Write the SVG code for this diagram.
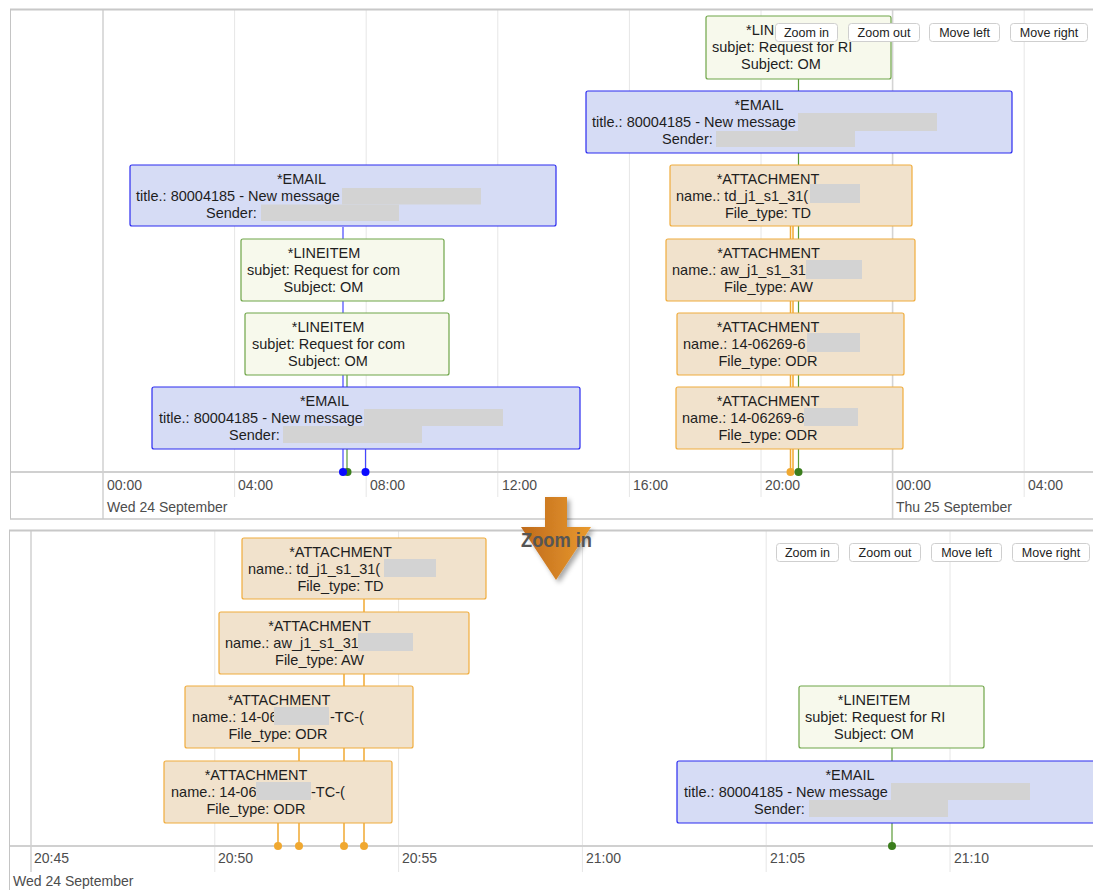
<svg xmlns="http://www.w3.org/2000/svg" width="1093" height="890" viewBox="0 0 1093 890">
<style>
text{font-family:"Liberation Sans",Arial,sans-serif;}
.t{font-size:14.5px;fill:#1e1e1e;}
.m{text-anchor:middle;}
.ax{font-size:14px;fill:#4d4d4d;}
.em{fill:#d6dcf5;stroke:#2b2bf0;stroke-width:1.2;}
.li{fill:#f7f9ec;stroke:#6fa548;stroke-width:1.2;}
.at{fill:#f1e2cc;stroke:#f0ac3c;stroke-width:1.2;}
.gr{fill:#d3d3d3;}
.minor{stroke:#e6e6e6;stroke-width:1;}
.major{stroke:#d4d4d4;stroke-width:1.6;}
.axis{stroke:#d0d0d0;stroke-width:2;}
.lb{stroke:#4545ff;stroke-width:1.2;}
.lg{stroke:#5a9a36;stroke-width:1.2;}
.lo{stroke:#f0a830;stroke-width:1.5;}
.db{fill:#0a0aff;}
.dg{fill:#3a7d1c;}
.do{fill:#f0a830;}
.btn rect{fill:#fff;stroke:#cfcfcf;stroke-width:1;}
.btn text{font-size:12.5px;fill:#222;text-anchor:middle;}
</style>
<defs>
<linearGradient id="ag" x1="0" y1="0" x2="1" y2="0">
<stop offset="0" stop-color="#bf6a1c"/>
<stop offset="1" stop-color="#e99a2e"/>
</linearGradient>
<filter id="sh" x="-30%" y="-30%" width="160%" height="160%">
<feDropShadow dx="3" dy="3" stdDeviation="2.5" flood-color="#000" flood-opacity="0.35"/>
</filter>
</defs>

<!-- TOP PANEL -->
<g id="top-panel">
<rect x="0" y="9" width="1093" height="510" fill="#fff"/>
<line class="minor" x1="234.6" y1="10" x2="234.6" y2="497"/>
<line class="minor" x1="366.2" y1="10" x2="366.2" y2="497"/>
<line class="minor" x1="497.8" y1="10" x2="497.8" y2="497"/>
<line class="minor" x1="629.4" y1="10" x2="629.4" y2="497"/>
<line class="minor" x1="761" y1="10" x2="761" y2="497"/>
<line class="minor" x1="1024.2" y1="10" x2="1024.2" y2="497"/>
<line class="major" x1="103" y1="10" x2="103" y2="519"/>
<line class="major" x1="892.6" y1="10" x2="892.6" y2="519"/>
<line class="axis" x1="10" y1="472" x2="1093" y2="472"/>
<line x1="10" y1="9.5" x2="1093" y2="9.5" stroke="#c8c8c8" stroke-width="2"/>
<line x1="10.5" y1="9" x2="10.5" y2="519" stroke="#c4c4c4"/>
<line x1="10" y1="519" x2="1093" y2="519" stroke="#c8c8c8" stroke-width="1.5"/>
<text class="ax" x="107" y="490">00:00</text>
<text class="ax" x="238" y="490">04:00</text>
<text class="ax" x="370" y="490">08:00</text>
<text class="ax" x="502" y="490">12:00</text>
<text class="ax" x="633" y="490">16:00</text>
<text class="ax" x="765" y="490">20:00</text>
<text class="ax" x="896" y="490">00:00</text>
<text class="ax" x="1028" y="490">04:00</text>
<text class="ax" x="107" y="512">Wed 24 September</text>
<text class="ax" x="896" y="512">Thu 25 September</text>
</g>

<!-- BOTTOM PANEL -->
<g id="bottom-panel">
<rect x="0" y="529" width="1093" height="361" fill="#fff"/>
<line class="major" x1="31" y1="531" x2="31" y2="872"/>
<line class="minor" x1="214.8" y1="531" x2="214.8" y2="872"/>
<line class="minor" x1="398.6" y1="531" x2="398.6" y2="872"/>
<line class="minor" x1="582.4" y1="531" x2="582.4" y2="872"/>
<line class="minor" x1="766.2" y1="531" x2="766.2" y2="872"/>
<line class="minor" x1="950" y1="531" x2="950" y2="872"/>
<line class="axis" x1="9" y1="846" x2="1093" y2="846"/>
<line x1="9" y1="530.5" x2="1093" y2="530.5" stroke="#c8c8c8" stroke-width="2"/>
<line x1="9.5" y1="530" x2="9.5" y2="890" stroke="#c4c4c4"/>
<text class="ax" x="34" y="863">20:45</text>
<text class="ax" x="218" y="863">20:50</text>
<text class="ax" x="402" y="863">20:55</text>
<text class="ax" x="586" y="863">21:00</text>
<text class="ax" x="770" y="863">21:05</text>
<text class="ax" x="954" y="863">21:10</text>
<text class="ax" x="13" y="886">Wed 24 September</text>
</g>

<!-- CONNECTORS -->
<g id="connectors">
<line class="lg" x1="347" y1="375" x2="347" y2="472"/>
<line class="lb" x1="343" y1="227" x2="343" y2="472"/>
<line class="lb" x1="365.5" y1="449" x2="365.5" y2="472"/>
<line class="lo" x1="790.5" y1="226" x2="790.5" y2="472"/>
<line class="lo" x1="793" y1="226" x2="793" y2="472"/>
<line class="lg" x1="798.5" y1="79" x2="798.5" y2="472"/>
<line class="lo" x1="278" y1="823" x2="278" y2="846"/>
<line class="lo" x1="299" y1="748" x2="299" y2="846"/>
<line class="lo" x1="344" y1="674" x2="344" y2="846"/>
<line class="lo" x1="364" y1="599" x2="364" y2="846"/>
<line class="lg" x1="892" y1="748" x2="892" y2="846"/>
<circle class="dg" cx="347.5" cy="472" r="4"/>
<circle class="db" cx="343" cy="472" r="4"/>
<circle class="db" cx="365.5" cy="472" r="4"/>
<circle class="do" cx="790.5" cy="472" r="4"/>
<circle class="dg" cx="798.5" cy="472" r="4"/>
<circle class="do" cx="278" cy="846" r="4"/>
<circle class="do" cx="299" cy="846" r="4"/>
<circle class="do" cx="344" cy="846" r="4"/>
<circle class="do" cx="364" cy="846" r="4"/>
<circle class="dg" cx="892" cy="846" r="4"/>
</g>

<!-- TOP PANEL NODES -->
<g id="email-tl">
<rect class="em" x="130" y="165" width="426" height="61" rx="2"/>
<text class="t m" x="301.5" y="184">*EMAIL</text>
<text class="t" x="136" y="201">title.: 80004185 - New message</text>
<rect class="gr" x="342" y="188" width="139" height="16.5"/>
<text class="t" x="206" y="218">Sender:</text>
<rect class="gr" x="261" y="204.5" width="138" height="16.5"/>
</g>
<g id="lineitem-tl1">
<rect class="li" x="241" y="239" width="203" height="62" rx="2"/>
<text class="t m" x="324" y="258">*LINEITEM</text>
<text class="t" x="247" y="275">subjet: Request for com</text>
<text class="t m" x="323.5" y="292">Subject: OM</text>
</g>
<g id="lineitem-tl2">
<rect class="li" x="245" y="313" width="204" height="62" rx="2"/>
<text class="t m" x="328" y="332">*LINEITEM</text>
<text class="t" x="252" y="349">subjet: Request for com</text>
<text class="t m" x="328" y="366">Subject: OM</text>
</g>
<g id="email-bl">
<rect class="em" x="152" y="387" width="428" height="62" rx="2"/>
<text class="t m" x="324.5" y="406">*EMAIL</text>
<text class="t" x="159" y="423">title.: 80004185 - New message</text>
<rect class="gr" x="364" y="409" width="139" height="17"/>
<text class="t" x="229" y="440">Sender:</text>
<rect class="gr" x="283" y="426" width="139" height="17"/>
</g>
<g id="lineitem-tr">
<rect class="li" x="706" y="16" width="185" height="63" rx="2"/>
<text class="t" x="746" y="35">*LIN</text>
<text class="t" x="712" y="52">subjet: Request for RI</text>
<text class="t m" x="781" y="69">Subject: OM</text>
</g>
<g id="email-tr">
<rect class="em" x="586" y="91" width="426" height="62" rx="2"/>
<text class="t m" x="759" y="110">*EMAIL</text>
<text class="t" x="592" y="127">title.: 80004185 - New message</text>
<rect class="gr" x="798" y="113" width="139" height="18"/>
<text class="t" x="662" y="144">Sender:</text>
<rect class="gr" x="716" y="131" width="139" height="16"/>
</g>
<g id="attachment-tr1">
<rect class="at" x="670" y="165" width="242" height="61" rx="2"/>
<text class="t m" x="768" y="184">*ATTACHMENT</text>
<text class="t" x="676" y="201">name.: td_j1_s1_31(</text>
<rect class="gr" x="810" y="184" width="50" height="19"/>
<text class="t m" x="768" y="218">File_type: TD</text>
</g>
<g id="attachment-tr2">
<rect class="at" x="666" y="239" width="249" height="62" rx="2"/>
<text class="t m" x="768.5" y="258">*ATTACHMENT</text>
<text class="t" x="672" y="275">name.: aw_j1_s1_31</text>
<rect class="gr" x="806" y="260" width="56" height="19"/>
<text class="t m" x="768.5" y="292">File_type: AW</text>
</g>
<g id="attachment-tr3">
<rect class="at" x="677" y="313" width="227" height="62" rx="2"/>
<text class="t m" x="768" y="332">*ATTACHMENT</text>
<text class="t" x="683" y="349">name.: 14-06269-6</text>
<rect class="gr" x="807" y="333" width="53" height="19"/>
<text class="t m" x="768" y="366">File_type: ODR</text>
</g>
<g id="attachment-tr4">
<rect class="at" x="676" y="387" width="227" height="62" rx="2"/>
<text class="t m" x="768" y="406">*ATTACHMENT</text>
<text class="t" x="682" y="423">name.: 14-06269-6</text>
<rect class="gr" x="804" y="408" width="54" height="18"/>
<text class="t m" x="768" y="440">File_type: ODR</text>
</g>

<!-- BOTTOM PANEL NODES -->
<g id="attachment-b1">
<rect class="at" x="242" y="538" width="244" height="61" rx="2"/>
<text class="t m" x="340.5" y="557">*ATTACHMENT</text>
<text class="t" x="248" y="574">name.: td_j1_s1_31(</text>
<rect class="gr" x="384" y="559" width="52" height="18"/>
<text class="t m" x="340.5" y="591">File_type: TD</text>
</g>
<g id="attachment-b2">
<rect class="at" x="219" y="612" width="250" height="62" rx="2"/>
<text class="t m" x="319.5" y="631">*ATTACHMENT</text>
<text class="t" x="225" y="648">name.: aw_j1_s1_31</text>
<rect class="gr" x="358" y="633" width="55" height="18"/>
<text class="t m" x="319.5" y="665">File_type: AW</text>
</g>
<g id="attachment-b3">
<rect class="at" x="185" y="686" width="228" height="62" rx="2"/>
<text class="t m" x="279" y="705">*ATTACHMENT</text>
<text class="t" x="192" y="722">name.: 14-06</text>
<rect class="gr" x="274" y="707" width="55" height="18"/>
<text class="t" x="330" y="722">-TC-(</text>
<text class="t m" x="278" y="739">File_type: ODR</text>
</g>
<g id="attachment-b4">
<rect class="at" x="164" y="761" width="228" height="62" rx="2"/>
<text class="t m" x="256" y="780">*ATTACHMENT</text>
<text class="t" x="171" y="797">name.: 14-06</text>
<rect class="gr" x="256" y="782" width="55" height="18"/>
<text class="t" x="311" y="797">-TC-(</text>
<text class="t m" x="256" y="814">File_type: ODR</text>
</g>
<g id="lineitem-br">
<rect class="li" x="799" y="686" width="185" height="62" rx="2"/>
<text class="t m" x="874" y="705">*LINEITEM</text>
<text class="t" x="805" y="722">subjet: Request for RI</text>
<text class="t m" x="874" y="739">Subject: OM</text>
</g>
<g id="email-br">
<rect class="em" x="677" y="761" width="430" height="62" rx="2"/>
<text class="t m" x="850" y="780">*EMAIL</text>
<text class="t" x="684" y="797">title.: 80004185 - New message</text>
<rect class="gr" x="891" y="783" width="139" height="17"/>
<text class="t" x="754" y="814">Sender:</text>
<rect class="gr" x="809" y="800" width="139" height="17"/>
</g>

<!-- BUTTONS -->
<g id="buttons-top" class="btn">
<rect x="775.5" y="23.5" width="62" height="18" rx="3"/><text x="806.5" y="37">Zoom in</text>
<rect x="848.5" y="23.5" width="71" height="18" rx="3"/><text x="884" y="37">Zoom out</text>
<rect x="929.5" y="23.5" width="70" height="18" rx="3"/><text x="964.5" y="37">Move left</text>
<rect x="1010.5" y="23.5" width="77" height="18" rx="3"/><text x="1049" y="37">Move right</text>
</g>
<g id="buttons-bottom" class="btn">
<rect x="776.5" y="543.5" width="62" height="18" rx="3"/><text x="807.5" y="557">Zoom in</text>
<rect x="849.5" y="543.5" width="71" height="18" rx="3"/><text x="885" y="557">Zoom out</text>
<rect x="931.5" y="543.5" width="70" height="18" rx="3"/><text x="966.5" y="557">Move left</text>
<rect x="1012.5" y="543.5" width="77" height="18" rx="3"/><text x="1051" y="557">Move right</text>
</g>

<!-- ZOOM ARROW -->
<g id="zoom-arrow">
<polygon points="545,497 567,497 567,527 591,527 556,580 521,527 545,527" fill="url(#ag)" filter="url(#sh)"/>
<text x="521" y="547" font-family="'Liberation Serif','Times New Roman',serif" font-weight="bold" font-size="21" fill="#555" textLength="71" lengthAdjust="spacingAndGlyphs">Zoom in</text>
</g>
</svg>
